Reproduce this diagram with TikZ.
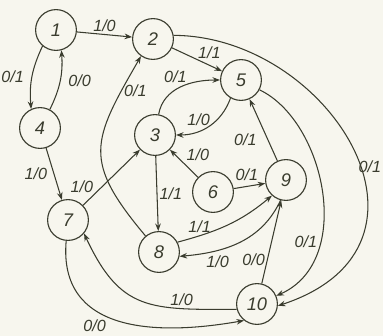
\documentclass[tikz,border=0pt]{standalone}
\usepackage{fontspec}
\setmainfont{Liberation Sans}
\usetikzlibrary{arrows.meta}

\definecolor{ink}{RGB}{58,60,46}
\definecolor{paper}{RGB}{247,246,238}

\begin{document}
\begin{tikzpicture}[
    x=0.025cm, y=0.025cm,
    state/.style={draw=ink, circle, line width=0.8pt, minimum size=1.02cm, inner sep=0pt, font=\itshape\fontsize{13}{15}\selectfont, text=ink},
    arrow/.style={-{Stealth[length=1.9mm, width=1.4mm]}, draw=ink, line width=0.75pt},
    lab/.style={font=\itshape\fontsize{11.5}{13}\selectfont, text=ink, inner sep=1.5pt}
  ]
    \fill[paper] (0,0) rectangle (383,336);
    \useasboundingbox (0,0) rectangle (383,336);

    \node[state] (s1) at (56,306) {1};
    \node[state] (s2) at (153,297) {2};
    \node[state] (s5) at (241,256) {5};
    \node[state] (s3) at (155,201) {3};
    \node[state] (s4) at (40,208) {4};
    \node[state] (s6) at (213,144) {6};
    \node[state] (s9) at (286,156) {9};
    \node[state] (s7) at (68,116) {7};
    \node[state] (s8) at (159,84) {8};
    \node[state] (s10) at (257,32) {10};

    \draw[arrow] (s1) -- node[lab, above] {1/0} (s2);
    \draw[arrow] (s2) -- node[lab, above right=-1pt] {1/1} (s5);
    \draw[arrow] (s2.10) .. controls (330,300) and (460,90) .. node[lab, pos=0.55, right=-3pt] {0/1} (s10.-5);
    \draw[arrow] (s5.-28) .. controls (325,215) and (355,75) .. node[lab, pos=0.7, left] {0/1} (s10.23);
    \draw[arrow] (s3.80) to[out=80, in=180] node[lab, pos=0.6, above left=-1pt] {0/1} (s5.180);
    \draw[arrow] (s5.-120) to[out=-110, in=0] node[lab, pos=0.5, above left=-2pt] {1/0} (s3.0);
    \draw[arrow] (s8.130) to[out=130, in=-120, looseness=1.4] node[lab, pos=0.85, right] {0/1} (s2.-125);
    \draw[arrow] (s1.-130) to[bend right=15] node[lab, left=4pt] {0/1} (s4.115);
    \draw[arrow] (s4.62) to[bend right=15] node[lab, right=4pt] {0/0} (s1.-75);
    \draw[arrow] (s4) -- node[lab, left=3pt] {1/0} (s7);
    \draw[arrow] (s7) -- node[lab, pos=0.2, above left=-1pt] {1/0} (s3);
    \draw[arrow] (s3) -- node[lab, right] {1/1} (s8);
    \draw[arrow] (s6) -- node[lab, above right] {1/0} (s3);
    \draw[arrow] (s6) -- node[lab, pos=0.42, above=2pt] {0/1} (s9);
    \draw[arrow] (s8.28) to[out=15, in=-140] node[lab, pos=0.2, above] {1/1} (s9.-132);
    \draw[arrow] (s9.-105) to[out=-115, in=5] node[lab, pos=0.7, below=2pt] {1/0} (s8.-12);
    \draw[arrow] (s9) -- node[lab, pos=0.35, left=6pt] {0/1} (s5);
    \draw[arrow] (s10) -- node[lab, pos=0.29, left] {0/0} (s9);
    \draw[arrow] (s10.-165) to[out=180, in=-65, looseness=1.3] node[lab, pos=0.25, above] {1/0} (s7.-40);
    \draw[arrow] (s7.-95) to[out=-95, in=-170, looseness=1.2] node[lab, pos=0.45, below left] {0/0} (s10.-128);
\end{tikzpicture}
\end{document}
